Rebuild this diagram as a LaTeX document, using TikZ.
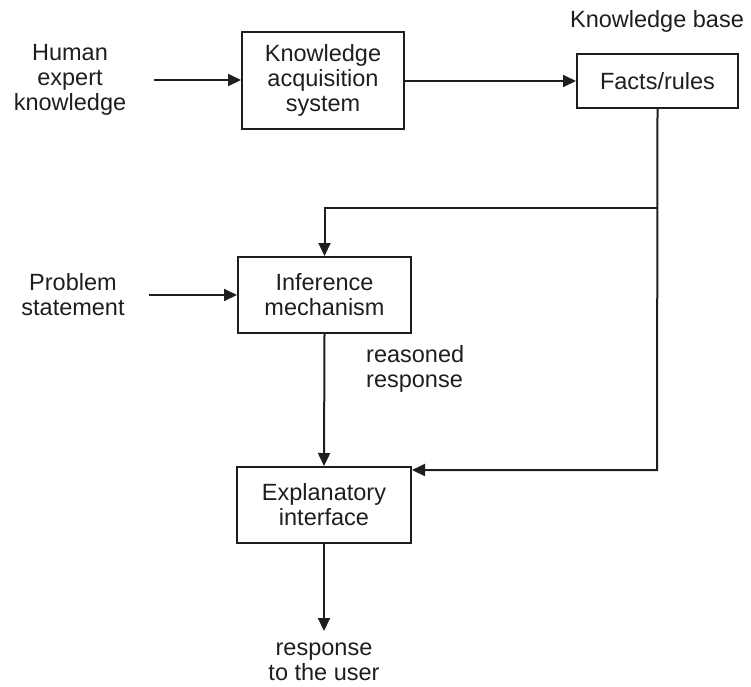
\documentclass[tikz,border=0pt]{standalone}
\usepackage{fontspec}
\setmainfont{Liberation Sans}
\usetikzlibrary{arrows.meta}
\definecolor{ink}{HTML}{1E1E1E}
\begin{document}
\begin{tikzpicture}[x=1pt,y=-1pt,
  every node/.style={font=\fontsize{23.5}{25}\selectfont, text=ink, align=center, inner sep=0pt},
  box/.style={draw=ink, line width=2pt, minimum width=#1},
  lbl/.style={},
  arr/.style={draw=ink, line width=2pt, -{Triangle[length=13pt,width=12pt]}},
  ln/.style={draw=ink, line width=2pt}]
\useasboundingbox (0,0) rectangle (751,686);
\node[box=162pt, minimum height=97pt] (ka) at (323,80.5) {Knowledge\\acquisition\\system};
\node[box=161pt, minimum height=54pt] (fr) at (657.5,81) {Facts/rules};
\node[box=173pt, minimum height=76pt] (inf) at (324.5,295) {Inference\\mechanism};
\node[box=174pt, minimum height=76pt] (exp) at (324,505) {Explanatory\\interface};
\node[lbl] (human) at (70,80) {Human\\expert\\knowledge};
\node[lbl] (prob) at (73,295) {Problem\\statement};
\node[lbl] (kb) at (657,21) {Knowledge base};
\node[lbl, anchor=west, align=left] (reas) at (366,369) {reasoned\\response};
\node[lbl] (resp) at (324,662) {response\\to the user};
\coordinate (h0) at (154,80);
\coordinate (p0) at (149,295);
\coordinate (j1) at (657,208);
\coordinate (c2) at (657,470);
\coordinate (out) at (324,631);
\draw[arr] (h0) -- (h0 -| ka.west);
\draw[arr] (ka.east |- fr.west) -- (fr.west);
\draw[arr] (p0) -- (inf.west);
\draw[arr] (fr.south) -- (c2) -- (c2 -| exp.east);
\draw[arr] (j1) -| (inf.north);
\draw[arr] (inf.south) -- (exp.north);
\draw[arr] (exp.south) -- (out);
\end{tikzpicture}
\end{document}
